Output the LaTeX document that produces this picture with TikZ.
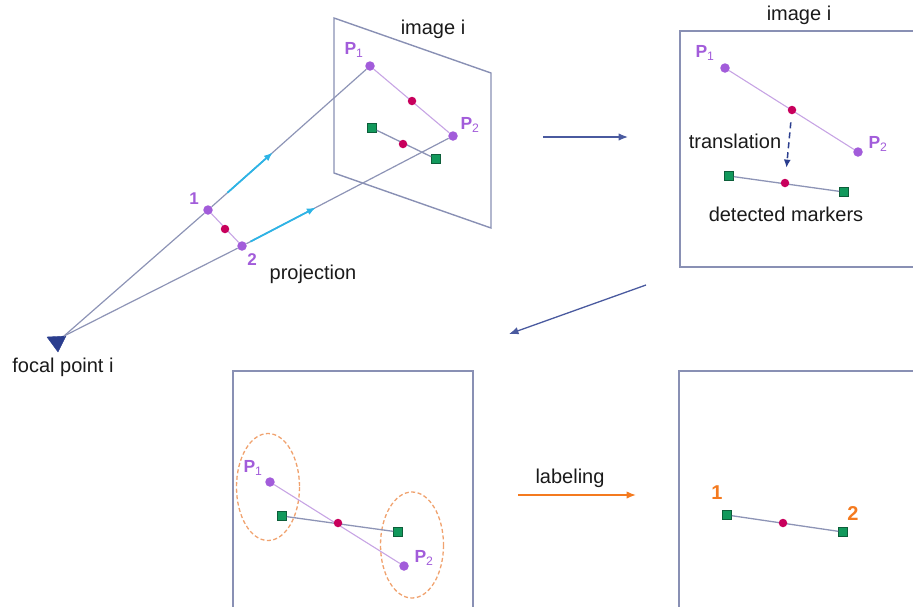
\documentclass[tikz,border=0pt]{standalone}
\usepackage{fontspec}
\setmainfont{Liberation Sans}
\setsansfont{Liberation Sans}
\usetikzlibrary{arrows.meta,calc}
\definecolor{ink}{HTML}{1A1A1A}
\definecolor{framecol}{HTML}{8990B4}
\definecolor{raycol}{HTML}{8D94B6}
\definecolor{violet}{HTML}{A25CDA}
\definecolor{lilac}{HTML}{C7A4E4}
\definecolor{berry}{HTML}{C8005C}
\definecolor{marker}{HTML}{12995C}
\definecolor{markeredge}{HTML}{0D5E3A}
\definecolor{sky}{HTML}{2DB4E6}
\definecolor{navy}{HTML}{2A3D8E}
\definecolor{tangerine}{HTML}{F47A1F}
\definecolor{peach}{HTML}{F0A26E}

\begin{document}
\begin{tikzpicture}[
  x=1pt,y=-1pt,font=\sffamily,
  caption/.style={font=\sffamily\fontsize{20}{22}\selectfont,text=ink},
  plabel/.style={font=\sffamily\fontsize{17.5}{18}\selectfont,text=violet,inner sep=0},
  numlabel/.style={font=\sffamily\bfseries\fontsize{17}{18}\selectfont,text=violet,inner sep=0},
  ordlabel/.style={font=\sffamily\bfseries\fontsize{20}{21}\selectfont,text=tangerine,inner sep=0},
  ptdot/.style={circle,fill=violet,inner sep=0,minimum size=9.5pt},
  middot/.style={circle,fill=berry,inner sep=0,minimum size=8.5pt},
  markbox/.style={rectangle,fill=marker,draw=markeredge,line width=.6pt,inner sep=0,minimum size=9pt},
  frameline/.style={draw=framecol,line width=1.4pt},
  ray/.style={draw=raycol,line width=1.2pt},
  pairline/.style={draw=lilac,line width=1.1pt},
  markline/.style={draw=raycol,line width=1.3pt},
  skyarrow/.style={-{Latex[length=9pt,width=7pt]},draw=sky,line width=1.8pt},
  navyarrow/.style={-{Latex[length=9.5pt,width=7.5pt]},draw=navy!85,line width=1.3pt},
  dasharrow/.style={-{Latex[length=8pt,width=7pt]},draw=navy,line width=1.5pt,dash pattern=on 6pt off 4pt},
  orangearrow/.style={-{Latex[length=9.5pt,width=7.5pt]},draw=tangerine,line width=1.5pt},
  ring/.style={draw=peach,line width=1.3pt,dash pattern=on 4pt off 2.5pt}
]
\useasboundingbox (0,0) rectangle (913,606);

% projection from the focal point onto image i
\coordinate (focal) at (64,336);
\filldraw[fill=navy,draw=navy,line join=round] (47,337)--(66,336)--(58,352)--cycle;
\node[caption] (focaltxt) at (63,367) {focal point i};

\draw[frameline] (334,18)--(491,73)--(491,228)--(334,173)--cycle;
\node[caption] (imgA) at (433,29) {image i};

\node[ptdot] (one) at (208,210) {};
\node[ptdot] (two) at (242,246) {};
\node[ptdot] (P1a) at (370,66) {};
\node[ptdot] (P2a) at (453,136) {};
\draw[ray] (focal) -- (one) -- (P1a);
\draw[ray] (focal) -- (two) -- (P2a);
\draw[pairline] (one) -- (two);
\draw[pairline] (P1a) -- (P2a);
\node[middot] (midA) at (225,229) {};
\node[middot] (midB) at (412,101) {};
\draw[skyarrow] ($(one)!.12!(P1a)$) -- ($(one)!.40!(P1a)$);
\draw[skyarrow] ($(two)!.04!(P2a)$) -- ($(two)!.35!(P2a)$);

\node[markbox] (mA1) at (372,128) {};
\node[markbox] (mA2) at (436,159) {};
\draw[markline] (mA1) -- (mA2);
\node[middot] (mA) at (403,144) {};

\node[numlabel] at (194,199) {1};
\node[numlabel] at (252,260) {2};
\node[plabel] at (354,50) {\textbf{P}\textsubscript{1}};
\node[plabel] at (470,125) {\textbf{P}\textsubscript{2}};
\node[caption] (projtxt) at (313,274) {projection};

% step arrows
\coordinate (s1a) at (543,137);
\coordinate (s1b) at (628,137);
\draw[navyarrow] (s1a) -- (s1b);
\coordinate (s2a) at (646,285);
\coordinate (s2b) at (509,334);
\draw[navyarrow] (s2a) -- (s2b);
\coordinate (s3a) at (518,495);
\coordinate (s3b) at (636,495);
\draw[orangearrow] (s3a) -- (s3b);
\node[caption] (labtxt) at (570,478) {labeling};

% translation to the detected markers
\draw[frameline] (914,31)--(680,31)--(680,267)--(914,267);
\node[caption] (imgB) at (799,15) {image i};
\node[ptdot] (P1b) at (725,68) {};
\node[ptdot] (P2b) at (858,152) {};
\draw[pairline] (P1b) -- (P2b);
\node[middot] (midC) at (792,110) {};
\node[markbox] (mB1) at (729,176) {};
\node[markbox] (mB2) at (844,192) {};
\draw[markline] (mB1) -- (mB2);
\node[middot] (mB) at (785,183) {};
\draw[dasharrow,shorten <=8pt,shorten >=11pt] (midC) -- (mB);
\node[plabel] at (705,53) {\textbf{P}\textsubscript{1}};
\node[plabel] at (878,144) {\textbf{P}\textsubscript{2}};
\node[caption] (transtxt) at (735,141) {translation};
\node[caption] (dettxt) at (786,214) {detected markers};

% matching each marker to its nearest point
\draw[frameline] (233,607)--(233,371)--(473,371)--(473,607);
\draw[ring] (268,487) ellipse (31.5 and 53.5);
\draw[ring] (412,545) ellipse (31.5 and 53);
\node[ptdot] (P1c) at (270,482) {};
\node[ptdot] (P2c) at (404,566) {};
\node[markbox] (mC1) at (282,516) {};
\node[markbox] (mC2) at (398,532) {};
\draw[markline] (mC1) -- (mC2);
\draw[pairline] (P1c) -- (P2c);
\node[middot] (mC) at (338,523) {};
\node[plabel] at (253,468) {\textbf{P}\textsubscript{1}};
\node[plabel] at (424,558) {\textbf{P}\textsubscript{2}};

% labelled markers
\draw[frameline] (914,371)--(679,371)--(679,607);
\node[markbox] (mD1) at (727,515) {};
\node[markbox] (mD2) at (843,532) {};
\draw[markline] (mD1) -- (mD2);
\node[middot] (mD) at (783,523) {};
\node[ordlabel] at (717,493) {1};
\node[ordlabel] at (853,514) {2};
\end{tikzpicture}
\end{document}
